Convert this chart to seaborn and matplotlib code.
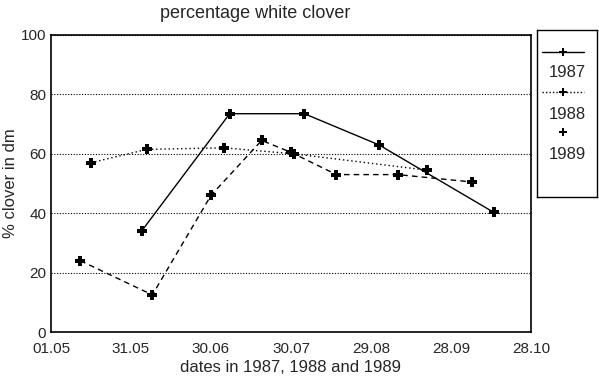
import pandas as pd
import matplotlib
matplotlib.use("Agg")
import matplotlib.pyplot as plt
import seaborn as sns

# days counted from 01.05
days_1987 = [34, 67, 95, 123, 166]
clover_1987 = [34, 73.5, 73.5, 63, 40.3]

days_1988 = [11, 38, 60, 79, 90, 107, 130, 158]
clover_1988 = [24, 12.5, 46, 64.5, 60.5, 53, 53, 50.5]

days_1989 = [15, 36, 65, 91, 141]
clover_1989 = [57, 61.5, 62, 60, 54.5]

tick_days = [0, 30, 60, 90, 120, 150, 180]
tick_labels = ["01.05", "31.05", "30.06", "30.07", "29.08", "28.09", "28.10"]
years = ["1987", "1988", "1989"]

# Build one long table for seaborn
frames = []
for yr, d, v in zip(years, [days_1987, days_1988, days_1989],
                    [clover_1987, clover_1988, clover_1989]):
    frames.append(pd.DataFrame({"day": d, "clover": v, "year": yr}))
clover = pd.concat(frames, ignore_index=True)

sns.set_style("white")
plt.rcParams["font.family"] = ["Liberation Sans", "DejaVu Sans"]

fig = plt.figure(figsize=(5.99, 3.80), dpi=100)
ax = fig.add_axes([51 / 599, 48 / 380, 480 / 599, 297 / 380])

dash_styles = {"1987": "", "1988": (4, 3), "1989": (1, 2)}
ax = sns.lineplot(data=clover, x="day", y="clover", hue="year", style="year",
                  palette=["black"] * 3, dashes=dash_styles,
                  markers={"1987": "P", "1988": "P", "1989": "P"},
                  markersize=6.5, markeredgewidth=0, linewidth=1,
                  sort=False, ax=ax)
ax.get_legend().remove()

ax.set_xlim(0, 180)
ax.set_ylim(0, 100)
ax.set_xticks(tick_days)
ax.set_xticklabels(tick_labels)
ax.set_yticks([0, 20, 40, 60, 80, 100])
ax.tick_params(axis="x", direction="in", length=4, labelsize=11, pad=7)
ax.tick_params(axis="y", direction="inout", length=5, labelsize=11, pad=1)
ax.yaxis.grid(True, linestyle=(0, (1, 1.5)), color="black", linewidth=0.8)
for side in ax.spines.values():
    side.set_color("black")
    side.set_linewidth(1.2)

ax.set_xlabel("dates in 1987, 1988 and 1989", fontsize=12, labelpad=3)
ax.set_ylabel("% clover in dm", fontsize=12, labelpad=2)
fig.text(255 / 599, 1 - 14 / 380, "percentage white clover",
         ha="center", va="center", fontsize=13)

# Legend: sample above the year, as in the original
leg = fig.add_axes([537 / 599, 183 / 380, 60 / 599, 167 / 380])
leg.set_xlim(0, 1)
leg.set_ylim(0, 1)
leg.set_xticks([])
leg.set_yticks([])
for side in leg.spines.values():
    side.set_color("black")
    side.set_linewidth(1)
sample_y = [0.868, 0.629, 0.389]
text_y = [0.743, 0.497, 0.257]
sample_ls = ["-", (0, (1, 1.5)), "none"]
for yr, sy, ty, ls in zip(years, sample_y, text_y, sample_ls):
    leg.plot([0.08, 0.78], [sy, sy], color="black", linestyle=ls,
             linewidth=1, marker=None)
    leg.plot([0.43], [sy], color="black", marker="P", markersize=6,
             markeredgewidth=0, linestyle="none")
    leg.text(0.5, ty, yr, ha="center", va="center", fontsize=12)

fig.savefig("out.png", dpi=100)
